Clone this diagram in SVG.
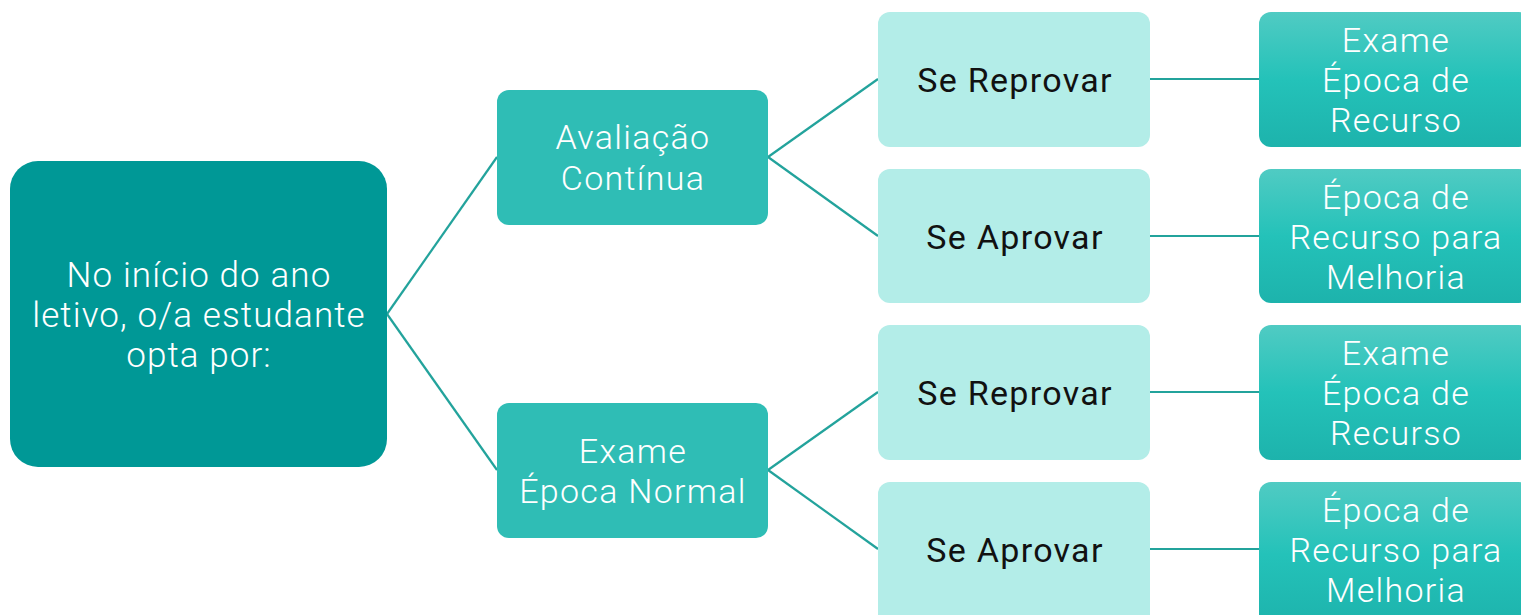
<svg xmlns="http://www.w3.org/2000/svg" width="1521" height="615" viewBox="0 0 1521 615">
<defs>
<linearGradient id="g3" x1="0" y1="0" x2="0" y2="1">
<stop offset="0" stop-color="#50CBC3"/>
<stop offset="0.5" stop-color="#24C2B9"/>
<stop offset="1" stop-color="#1DB3AC"/>
</linearGradient>
</defs>
<style>
text{font-family:Roboto,"Liberation Sans",sans-serif;font-size:34px;text-anchor:middle;letter-spacing:1.3px}
.w{fill:#ffffff;font-weight:300}
.k{fill:#111111}
.big{font-size:35px;letter-spacing:1.1px}
.root{fill:#009896}
.l1{fill:#2FBDB5}
.l2{fill:#B3EDE8}
.l3{fill:url(#g3)}
.c{stroke:#23A39C;stroke-width:2.2;fill:none}
</style>
<rect width="1521" height="615" fill="#ffffff"/>
<g id="connectors">
<line class="c" x1="387" y1="314" x2="497" y2="157"/>
<line class="c" x1="387" y1="314" x2="497" y2="470"/>
<line class="c" x1="768" y1="157" x2="878" y2="79"/>
<line class="c" x1="768" y1="157" x2="878" y2="236"/>
<line class="c" x1="768" y1="470" x2="878" y2="392"/>
<line class="c" x1="768" y1="470" x2="878" y2="549"/>
<line class="c" x1="1150" y1="79" x2="1259" y2="79"/>
<line class="c" x1="1150" y1="236" x2="1259" y2="236"/>
<line class="c" x1="1150" y1="392" x2="1259" y2="392"/>
<line class="c" x1="1150" y1="549" x2="1259" y2="549"/>
</g>
<g id="root">
<rect class="root" x="10" y="161" width="377" height="306" rx="28"/>
<text class="w big" x="199" y="287">No início do ano</text>
<text class="w big" x="199" y="327">letivo, o/a estudante</text>
<text class="w big" x="199" y="367">opta por:</text>
</g>
<g id="avaliacao">
<rect class="l1" x="497" y="90" width="271" height="135" rx="12"/>
<text class="w" x="633" y="149">Avaliação</text>
<text class="w" x="633" y="190">Contínua</text>
</g>
<g id="exame-normal">
<rect class="l1" x="497" y="403" width="271" height="135" rx="12"/>
<text class="w" x="633" y="463">Exame</text>
<text class="w" x="633" y="503">Época Normal</text>
</g>
<g id="reprovar1">
<rect class="l2" x="878" y="12" width="272" height="135" rx="12"/>
<text class="k" x="1015" y="92">Se Reprovar</text>
</g>
<g id="aprovar1">
<rect class="l2" x="878" y="169" width="272" height="134" rx="12"/>
<text class="k" x="1015" y="249">Se Aprovar</text>
</g>
<g id="reprovar2">
<rect class="l2" x="878" y="325" width="272" height="135" rx="12"/>
<text class="k" x="1015" y="405">Se Reprovar</text>
</g>
<g id="aprovar2">
<rect class="l2" x="878" y="482" width="272" height="145" rx="12"/>
<text class="k" x="1015" y="562">Se Aprovar</text>
</g>
<g id="recurso1">
<rect class="l3" x="1259" y="12" width="272" height="135" rx="12"/>
<text class="w" x="1396" y="52">Exame</text>
<text class="w" x="1396" y="92">Época de</text>
<text class="w" x="1396" y="132">Recurso</text>
</g>
<g id="melhoria1">
<rect class="l3" x="1259" y="169" width="272" height="134" rx="12"/>
<text class="w" x="1396" y="209">Época de</text>
<text class="w" x="1396" y="249">Recurso para</text>
<text class="w" x="1396" y="289">Melhoria</text>
</g>
<g id="recurso2">
<rect class="l3" x="1259" y="325" width="272" height="135" rx="12"/>
<text class="w" x="1396" y="365">Exame</text>
<text class="w" x="1396" y="405">Época de</text>
<text class="w" x="1396" y="445">Recurso</text>
</g>
<g id="melhoria2">
<rect class="l3" x="1259" y="482" width="272" height="145" rx="12"/>
<text class="w" x="1396" y="522">Época de</text>
<text class="w" x="1396" y="562">Recurso para</text>
<text class="w" x="1396" y="602">Melhoria</text>
</g>
</svg>
